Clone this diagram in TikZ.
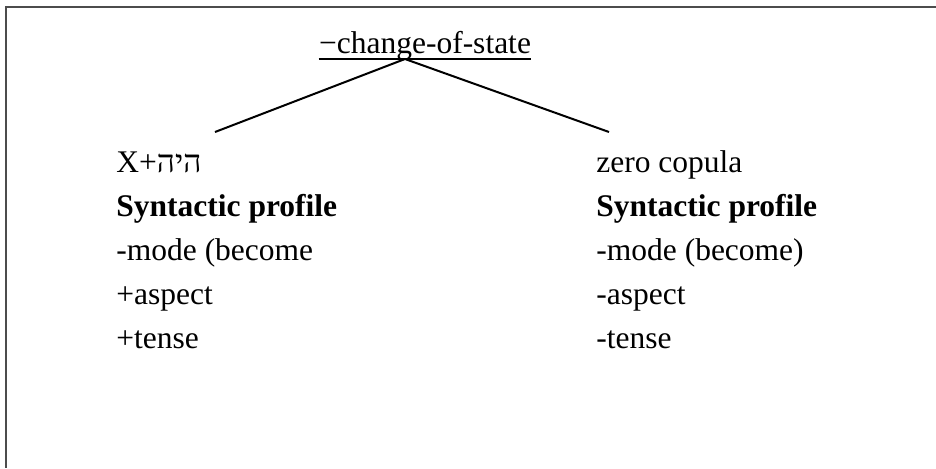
\documentclass[tikz,border=0pt]{standalone}
\usepackage{fontspec}
\setmainfont{Liberation Serif}
\newfontfamily\hebfont[Script=Hebrew]{Liberation Serif}
\TeXXeTstate=1
\begin{document}
\begin{tikzpicture}[x=0.5pt,y=-0.5pt,
  lbl/.style={anchor=base west,inner sep=0pt,font=\fontsize{15.75}{18}\selectfont},
  frameline/.style={draw=black!70,line width=0.75pt},
  branch/.style={draw=black,line width=1pt}]
  \useasboundingbox (0,0) rectangle (936,468);
  % open frame: top and left edges only
  \draw[frameline] (5,7) -- (936,7);
  \draw[frameline] (6,7) -- (6,468);
  % root label
  \node[lbl,anchor=base] (root) at (425,53) {−change-of-state};
  \draw[line width=0.9pt] ([yshift=-3pt]root.base west) -- ([yshift=-3pt]root.base east);
  % branches
  \coordinate (apex) at (405,59);
  \coordinate (lend) at (215,132);
  \coordinate (rend) at (609,132);
  \draw[branch] (apex) -- (lend);
  \draw[branch] (apex) -- (rend);
  % left column
  \node[lbl] (l1) at (116,172) {X+{\hebfont\beginR היה\endR}};
  \node[lbl] (l2) at (116,216) {\textbf{Syntactic profile}};
  \node[lbl] (l3) at (116,260) {-mode (become};
  \node[lbl] (l4) at (116,304) {+aspect};
  \node[lbl] (l5) at (116,348) {+tense};
  % right column
  \node[lbl] (r1) at (596,172) {zero copula};
  \node[lbl] (r2) at (596,216) {\textbf{Syntactic profile}};
  \node[lbl] (r3) at (596,260) {-mode (become)};
  \node[lbl] (r4) at (596,304) {-aspect};
  \node[lbl] (r5) at (596,348) {-tense};
\end{tikzpicture}
\end{document}
